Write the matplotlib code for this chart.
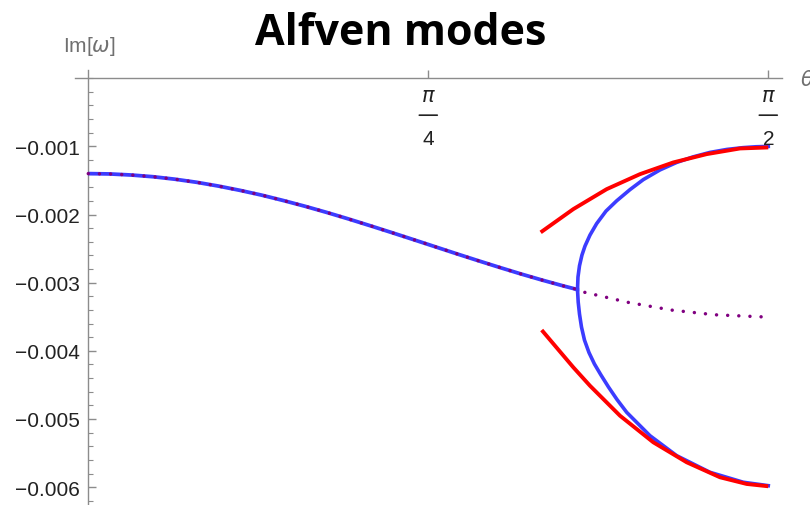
import numpy as np
import matplotlib
matplotlib.use("Agg")
import matplotlib.pyplot as plt
import matplotlib.transforms as mtransforms
from matplotlib.ticker import MultipleLocator

# shared branch (theta < branch point)
theta_main = [0.0, 0.05, 0.1, 0.15, 0.2, 0.25, 0.3, 0.35, 0.4, 0.45, 0.5, 0.55, 0.6,
              0.65, 0.7, 0.75, 0.8, 0.85, 0.9, 0.95, 1.0, 1.05, 1.1, 1.13]
im_main = [-0.001400, -0.001405, -0.001421, -0.001446, -0.001482, -0.001527, -0.001582,
           -0.001645, -0.001715, -0.001794, -0.001878, -0.001968, -0.002063, -0.002162,
           -0.002263, -0.002366, -0.002470, -0.002574, -0.002676, -0.002776, -0.002873,
           -0.002965, -0.003052, -0.003101]

# upper split branch
theta_up = [1.1301, 1.1312, 1.1347, 1.1404, 1.1474, 1.1589, 1.1744, 1.1959, 1.2206, 1.2513,
            1.2821, 1.3206, 1.3592, 1.3969, 1.4361, 1.4754, 1.5124, 1.5424, 1.5708]
im_up = [-0.003101, -0.002918, -0.002752, -0.002595, -0.002463, -0.002302, -0.002133,
         -0.001950, -0.001799, -0.001635, -0.001488, -0.001346, -0.001236, -0.001155,
         -0.001089, -0.001045, -0.001019, -0.001006, -0.001001]

# lower split branch
theta_low = [1.1301, 1.1317, 1.1347, 1.1393, 1.1462, 1.1566, 1.1693, 1.1843, 1.2017,
             1.2213, 1.2437, 1.2975, 1.3592, 1.4361, 1.5131, 1.5708]
im_low = [-0.003101, -0.003284, -0.003460, -0.003651, -0.003842, -0.004025, -0.004194,
          -0.004355, -0.004531, -0.004714, -0.004902, -0.005245, -0.005538, -0.005782,
          -0.005928, -0.005978]

# mean damping past the branch point (dotted)
theta_avg = [1.147, 1.247, 1.347, 1.447, 1.551, 1.5708]
im_avg = [-0.003142, -0.003289, -0.003402, -0.003471, -0.003500, -0.003505]

# asymptotic approximations
theta_red_up = [1.0450, 1.1204, 1.1975, 1.2744, 1.3514, 1.4285, 1.5054, 1.5708]
im_red_up = [-0.002262, -0.001921, -0.001628, -0.001408, -0.001236, -0.001114, -0.001031, -0.001016]
theta_red_low = [1.0474, 1.1204, 1.1589, 1.2283, 1.3052, 1.3823, 1.4592, 1.5209, 1.5708]
im_red_low = [-0.003695, -0.004242, -0.004512, -0.004952, -0.005342, -0.005635,
              -0.005855, -0.005953, -0.005987]

ytick_vals = [-0.001, -0.002, -0.003, -0.004, -0.005, -0.006]
ytick_labels = ["\u22120.001", "\u22120.002", "\u22120.003", "\u22120.004", "\u22120.005", "\u22120.006"]
xtick_vals = [np.pi / 4, np.pi / 2]
xtick_den = ["4", "2"]

axis_gray = "#8c8c8c"
label_col = "#222222"
blue = "#3c3cff"
plt.rcParams["font.family"] = ["Liberation Sans", "DejaVu Sans"]

fig = plt.figure(figsize=(8.1, 5.06), dpi=100)
ax = fig.add_axes([0.09296, 0.00158, 0.87210, 0.85810])
ax.set_xlim(-0.03, 1.6018)
ax.set_ylim(-0.00625, 0.00012)

ax.plot(theta_main, im_main, color=blue, lw=2.7, solid_capstyle="butt", zorder=3)
ax.plot(theta_up, im_up, color=blue, lw=2.6, zorder=3)
ax.plot(theta_low, im_low, color=blue, lw=2.6, zorder=3)
ax.plot(theta_red_up, im_red_up, color="red", lw=2.8, solid_capstyle="butt", zorder=4)
ax.plot(theta_red_low, im_red_low, color="red", lw=2.8, solid_capstyle="butt", zorder=4)
ax.plot(theta_main + theta_avg, im_main + im_avg, color="#800080", lw=2.5,
        linestyle=(0, (0.01, 3.2)), dash_capstyle="round", zorder=5)

# axes crossing at the origin, Mathematica style
for s in ["top", "right"]:
    ax.spines[s].set_visible(False)
ax.spines["left"].set_position(("data", 0))
ax.spines["bottom"].set_position(("data", 0))
for s in ["left", "bottom"]:
    ax.spines[s].set_color(axis_gray)
    ax.spines[s].set_linewidth(1.0)

ax.set_yticks(ytick_vals)
ax.set_yticklabels(ytick_labels)
ax.yaxis.set_minor_locator(MultipleLocator(0.0002))
ax.tick_params(axis="y", which="major", direction="in", length=6, width=1,
               color=axis_gray, labelsize=15, labelcolor=label_col, pad=6)
ax.tick_params(axis="y", which="minor", direction="in", length=3.5, width=0.8, color=axis_gray)
ax.set_xticks(xtick_vals)
ax.tick_params(axis="x", which="major", direction="in", length=6, width=1,
               color=axis_gray, labelbottom=False)
ax.tick_params(axis="x", which="minor", length=0)

# stacked fraction labels under the theta axis
for xv, den in zip(xtick_vals, xtick_den):
    ax.annotate("\u03c0", xy=(xv, 0), xytext=(0, -17), textcoords="offset pixels",
                ha="center", va="center", fontsize=15, style="italic",
                family="DejaVu Sans", color=label_col, annotation_clip=False)
    ax.annotate("", xy=(xv, 0), xycoords=mtransforms.offset_copy(ax.transData, fig=fig, x=9, y=-37, units="dots"),
                xytext=(xv, 0), textcoords=mtransforms.offset_copy(ax.transData, fig=fig, x=-9, y=-37, units="dots"),
                arrowprops=dict(arrowstyle="-", color=label_col, lw=1.2, shrinkA=0, shrinkB=0),
                annotation_clip=False)
    ax.annotate(den, xy=(xv, 0), xytext=(0, -60), textcoords="offset pixels",
                ha="center", va="center", fontsize=15, color=label_col,
                annotation_clip=False, zorder=6)

fig.text(89 / 810, 1 - 46 / 506, "Im[$\\omega$]", ha="center", va="center",
         fontsize=15, color="#707070")
fig.text(800 / 810, 1 - 80 / 506, "$\\theta$", ha="left", va="center",
         fontsize=15, color="#707070")
fig.text(401 / 810, 1 - 45 / 506, "Alfven modes", ha="center", va="baseline",
         fontsize=31, fontweight="bold", family="Open Sans")

fig.savefig("out.png", dpi=100)
